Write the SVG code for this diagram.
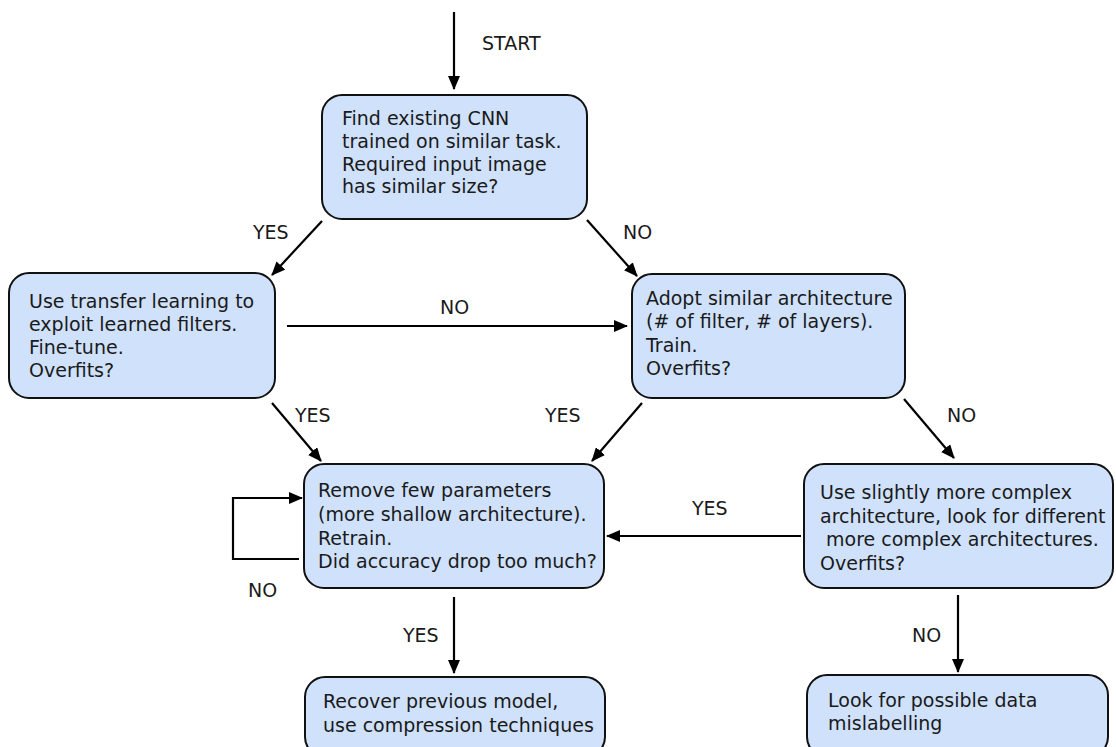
<svg xmlns="http://www.w3.org/2000/svg" width="1116" height="747" viewBox="0 0 1116 747">
  <style>
    .box { fill: #cfe1fb; stroke: #111; stroke-width: 2; }
    .txt { font-family: "DejaVu Sans", Verdana, sans-serif; font-size: 19px; fill: #1a1a1a; }
    .edge { fill: none; stroke: #000; stroke-width: 2.2; }
  </style>
  <defs>
    <marker id="arrow" viewBox="0 0 14 12" refX="13" refY="6" markerWidth="14" markerHeight="12" markerUnits="userSpaceOnUse" orient="auto">
      <path d="M0,0 L14,6 L0,12 Z" fill="#000"/>
    </marker>
  </defs>

  <rect width="1116" height="747" fill="#fff"/>

  <!-- connectors -->
  <g id="connectors">
    <line class="edge" x1="454" y1="12" x2="454" y2="89" marker-end="url(#arrow)"/>
    <line class="edge" x1="322" y1="221" x2="272" y2="275" marker-end="url(#arrow)"/>
    <line class="edge" x1="587" y1="220" x2="637" y2="276" marker-end="url(#arrow)"/>
    <line class="edge" x1="287" y1="326" x2="627" y2="326" marker-end="url(#arrow)"/>
    <line class="edge" x1="272" y1="403" x2="321" y2="461" marker-end="url(#arrow)"/>
    <line class="edge" x1="642" y1="403" x2="592" y2="461" marker-end="url(#arrow)"/>
    <line class="edge" x1="904" y1="399" x2="954" y2="458" marker-end="url(#arrow)"/>
    <line class="edge" x1="801" y1="536" x2="607" y2="536" marker-end="url(#arrow)"/>
    <polyline class="edge" points="299,559 233,559 233,498 302,498" marker-end="url(#arrow)"/>
    <line class="edge" x1="454" y1="597" x2="454" y2="673" marker-end="url(#arrow)"/>
    <line class="edge" x1="958" y1="595" x2="958" y2="672" marker-end="url(#arrow)"/>

    <text class="txt" x="482" y="50">START</text>
    <text class="txt" x="253" y="239">YES</text>
    <text class="txt" x="623" y="239">NO</text>
    <text class="txt" x="440" y="314">NO</text>
    <text class="txt" x="295" y="422">YES</text>
    <text class="txt" x="545" y="422">YES</text>
    <text class="txt" x="947" y="422">NO</text>
    <text class="txt" x="692" y="515">YES</text>
    <text class="txt" x="248" y="597">NO</text>
    <text class="txt" x="403" y="642">YES</text>
    <text class="txt" x="912" y="642">NO</text>
  </g>

  <g id="find-cnn">
    <rect class="box" x="322" y="95" width="265" height="124" rx="20"/>
    <text class="txt" x="342" y="125">Find existing CNN</text>
    <text class="txt" x="342" y="148">trained on similar task.</text>
    <text class="txt" x="342" y="171">Required input image</text>
    <text class="txt" x="342" y="193">has similar size?</text>
  </g>

  <g id="transfer-learning">
    <rect class="box" x="9" y="273" width="266" height="125" rx="20"/>
    <text class="txt" x="29" y="308">Use transfer learning to</text>
    <text class="txt" x="29" y="331">exploit learned filters.</text>
    <text class="txt" x="29" y="354">Fine-tune.</text>
    <text class="txt" x="29" y="377">Overfits?</text>
  </g>

  <g id="similar-architecture">
    <rect class="box" x="632" y="274" width="273" height="124" rx="20"/>
    <text class="txt" x="646" y="305">Adopt similar architecture</text>
    <text class="txt" x="646" y="328">(# of filter, # of layers).</text>
    <text class="txt" x="646" y="352">Train.</text>
    <text class="txt" x="646" y="375">Overfits?</text>
  </g>

  <g id="remove-parameters">
    <rect class="box" x="304" y="464" width="300" height="124" rx="20"/>
    <text class="txt" x="318" y="497">Remove few parameters</text>
    <text class="txt" x="318" y="521">(more shallow architecture).</text>
    <text class="txt" x="318" y="545">Retrain.</text>
    <text class="txt" x="318" y="568">Did accuracy drop too much?</text>
  </g>

  <g id="more-complex">
    <rect class="box" x="804" y="464" width="309" height="124" rx="20"/>
    <text class="txt" x="820" y="499">Use slightly more complex</text>
    <text class="txt" x="820" y="523">architecture, look for different</text>
    <text class="txt" x="820" y="546" xml:space="preserve"> more complex architectures.</text>
    <text class="txt" x="820" y="570">Overfits?</text>
  </g>

  <g id="recover-model">
    <rect class="box" x="305" y="677" width="300" height="80" rx="20"/>
    <text class="txt" x="323" y="708">Recover previous model,</text>
    <text class="txt" x="323" y="732">use compression techniques</text>
  </g>

  <g id="mislabelling">
    <rect class="box" x="807" y="675" width="301" height="82" rx="20"/>
    <text class="txt" x="828" y="707">Look for possible data</text>
    <text class="txt" x="828" y="730">mislabelling</text>
  </g>
</svg>
